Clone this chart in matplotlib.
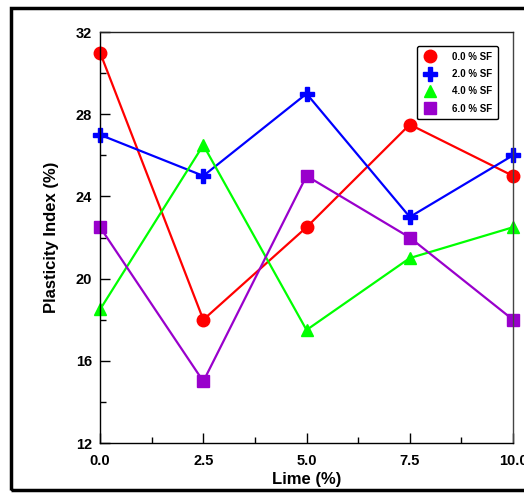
import matplotlib.pyplot as plt
from matplotlib.patches import Rectangle

plt.rcParams['font.family'] = ['Liberation Sans', 'DejaVu Sans']
plt.rcParams['font.weight'] = 'bold'
plt.rcParams['xtick.direction'] = 'in'
plt.rcParams['ytick.direction'] = 'in'

lime = [0.0, 2.5, 5.0, 7.5, 10.0]
pi_a = [31, 18, 22.5, 27.5, 25]
pi_b = [27, 25, 29, 23, 26]
pi_c = [18.5, 26.5, 17.5, 21, 22.5]
pi_d = [22.5, 15, 25, 22, 18]
labels = ["0.0 % SF", "2.0 % SF", "4.0 % SF", "6.0 % SF"]

fig = plt.figure(figsize=(5.24, 4.93), dpi=100)
ax = fig.add_axes([0.191, 0.1014, 0.788, 0.8336])

ax.plot(lime, pi_a, color="red", marker="o", markersize=9, lw=1.6, label=labels[0])
ax.plot(lime, pi_b, color="blue", marker="P", markersize=10, lw=1.6, label=labels[1])
ax.plot(lime, pi_c, color="lime", marker="^", markersize=9, lw=1.6, label=labels[2])
ax.plot(lime, pi_d, color="#9900cc", marker="s", markersize=9, lw=1.6, label=labels[3])

for m in ax.lines:
    m.set_clip_on(False)

ax.set_xlim(0, 10)
ax.set_ylim(12, 32)
ax.set_xticks([0, 2.5, 5, 7.5, 10])
ax.set_xticklabels(["0.0", "2.5", "5.0", "7.5", "10.0"])
ax.set_xticks([1.25, 3.75, 6.25, 8.75], minor=True)
ax.set_yticks([12, 16, 20, 24, 28, 32])
ax.set_yticks([14, 18, 22, 26, 30], minor=True)
ax.tick_params(which="major", length=7, width=1, labelsize=10.5)
ax.tick_params(which="minor", length=4, width=1)
ax.tick_params(axis="x", pad=8)
ax.tick_params(axis="y", pad=6)
for s in ax.spines.values():
    s.set_linewidth(1)
ax.spines["right"].set_color("#444444")
ax.spines["top"].set_color("#222222")

ax.set_xlabel("Lime (%)", fontsize=12, fontweight="bold", labelpad=3)
ax.set_ylabel("Plasticity Index (%)", fontsize=12, fontweight="bold", labelpad=12)

leg = ax.legend(loc="upper right", bbox_to_anchor=(0.975, 0.978), fontsize=7,
                frameon=True, fancybox=True, edgecolor="black", handlelength=1.6,
                handletextpad=1.4, labelspacing=0.75, borderpad=0.6)
leg.get_frame().set_linewidth(1)
leg.get_frame().set_alpha(1)
# markers only in the legend
for h in leg.get_lines():
    h.set_linestyle("none")

border = Rectangle((0.021, 0.006), 1.2, 0.978, transform=fig.transFigure,
                   fill=False, edgecolor="black", linewidth=2.5)
fig.patches.append(border)

fig.savefig("out.png", dpi=100)
plt.close(fig)
